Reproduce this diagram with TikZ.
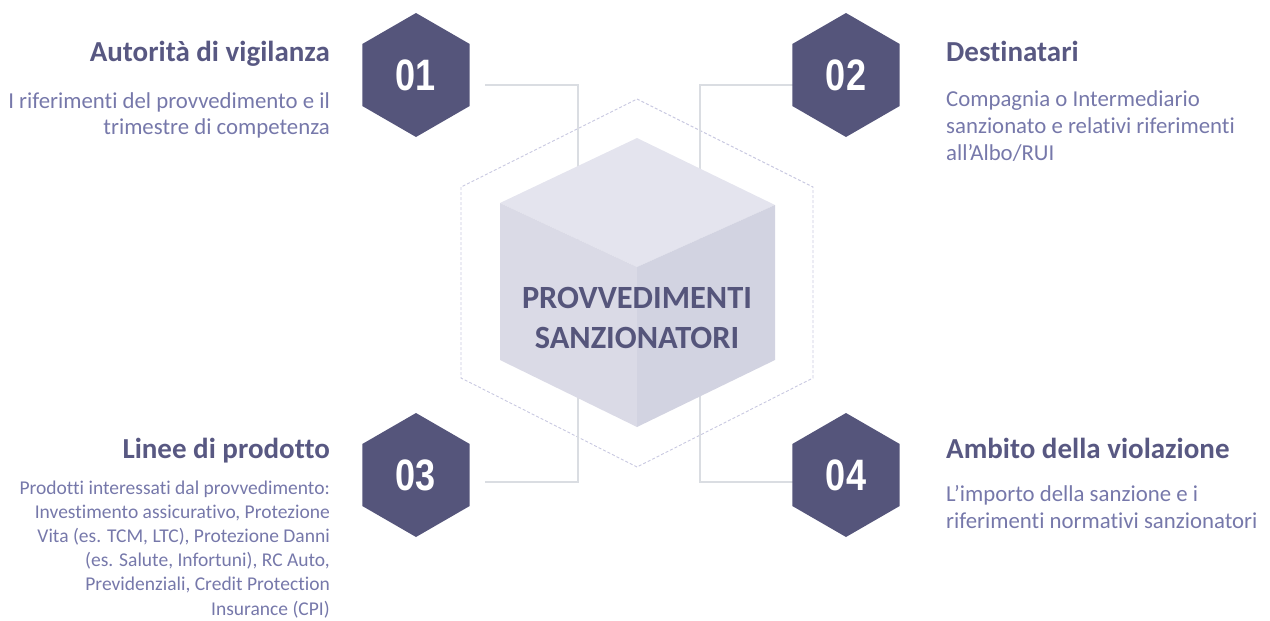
\documentclass[tikz,border=0pt]{standalone}
\usepackage{fontspec}
\setmainfont{Carlito}[Ligatures={NoCommon}]
\newfontfamily\digitfont{Liberation Sans}
\usetikzlibrary{shapes.geometric}

\definecolor{hexfill}{RGB}{85,85,123}
\definecolor{titlecol}{RGB}{88,88,130}
\definecolor{bodycol}{RGB}{118,120,170}
\definecolor{linkcol}{RGB}{218,221,226}
\definecolor{dashcol}{RGB}{200,200,224}
\definecolor{cubetop}{RGB}{228,228,238}
\definecolor{cubeleft}{RGB}{218,218,230}
\definecolor{cuberight}{RGB}{210,211,225}

\tikzset{
  hexnum/.style={regular polygon, regular polygon sides=6, shape border rotate=30,
    minimum size=124pt, inner sep=0pt, fill=hexfill, text=white,
    font=\digitfont\bfseries\fontsize{44}{44}\selectfont},
  heading/.style={inner sep=0pt, text=titlecol,
    font=\bfseries\fontsize{29}{34}\selectfont},
  bodytext/.style={inner sep=0pt, text=bodycol},
  link/.style={draw=linkcol, line width=1.2pt},
  guide/.style={draw=dashcol, line width=0.9pt, dash pattern=on 3pt off 2pt},
}

\begin{document}
\begin{tikzpicture}[x=1pt,y=-1pt]
\useasboundingbox (0,0) rectangle (1270,621);

% dashed hexagonal frame around the cube
\draw[guide] (637,99) -- (813,187) -- (813,378) -- (637,467) -- (461,378) -- (461,187) -- cycle;

% connector end points
\coordinate (l1) at (485,85);  \coordinate (k1) at (578,85);
\coordinate (l3) at (485,482); \coordinate (k3) at (578,482);
\coordinate (l2) at (793,85);  \coordinate (k2) at (700,85);
\coordinate (l4) at (793,482); \coordinate (k4) at (700,482);
\draw[link] (l1) -- (k1) -- (k3) -- (l3);
\draw[link] (l2) -- (k2) -- (k4) -- (l4);

% central cube
\coordinate (ct) at (637,138);
\coordinate (clt) at (500,203);
\coordinate (cc) at (637,267);
\coordinate (crt) at (775,205);
\coordinate (clb) at (500,360);
\coordinate (cb) at (637,427);
\coordinate (crb) at (775,360);
\fill[cubetop] (ct) -- (crt) -- (cc) -- (clt) -- cycle;
\fill[cubeleft] (clt) -- (cc) -- (cb) -- (clb) -- cycle;
\fill[cuberight] (cc) -- (crt) -- (crb) -- (cb) -- cycle;
\node[inner sep=0pt, text=hexfill, align=center,
  font=\bfseries\fontsize{32.4}{40}\selectfont] (core) at (637,318)
  {PROVVEDIMENTI\\SANZIONATORI};

% numbered hexagons
\node[hexnum] (h1) at (416,75) {\scalebox{0.82}[1]{01}};
\node[hexnum] (h2) at (846,75) {\scalebox{0.82}[1]{02}};
\node[hexnum] (h3) at (416,475) {\scalebox{0.82}[1]{03}};
\node[hexnum] (h4) at (846,475) {\scalebox{0.82}[1]{04}};

% headings
\node[heading, anchor=base east] (t1) at (330,61) {Autorità di vigilanza};
\node[heading, anchor=base west] (t2) at (946,61) {Destinatari};
\node[heading, anchor=base east] (t3) at (330,458) {Linee di prodotto};
\node[heading, anchor=base west] (t4) at (946,458) {Ambito della violazione};

% descriptions (anchored on the baseline of their last line)
\node[bodytext, anchor=base east, align=right,
  font=\fontsize{22.8}{26}\selectfont] (d1) at (330,134)
  {I riferimenti del provvedimento e il\\trimestre di competenza};
\node[bodytext, anchor=base west, align=left,
  font=\fontsize{22.8}{27}\selectfont] (d2) at (946,160)
  {Compagnia o Intermediario\\sanzionato e relativi riferimenti\\all’Albo/RUI};
\node[bodytext, anchor=base east, align=right,
  font=\fontsize{19.5}{24.2}\selectfont] (d3) at (330,615)
  {Prodotti interessati dal provvedimento:\\Investimento assicurativo, Protezione\\Vita (es. TCM, LTC), Protezione Danni\\(es. Salute, Infortuni), RC Auto,\\Previdenziali, Credit Protection\\Insurance (CPI)};
\node[bodytext, anchor=base west, align=left,
  font=\fontsize{22.8}{27}\selectfont] (d4) at (946,528)
  {L’importo della sanzione e i\\riferimenti normativi sanzionatori};
\end{tikzpicture}
\end{document}
